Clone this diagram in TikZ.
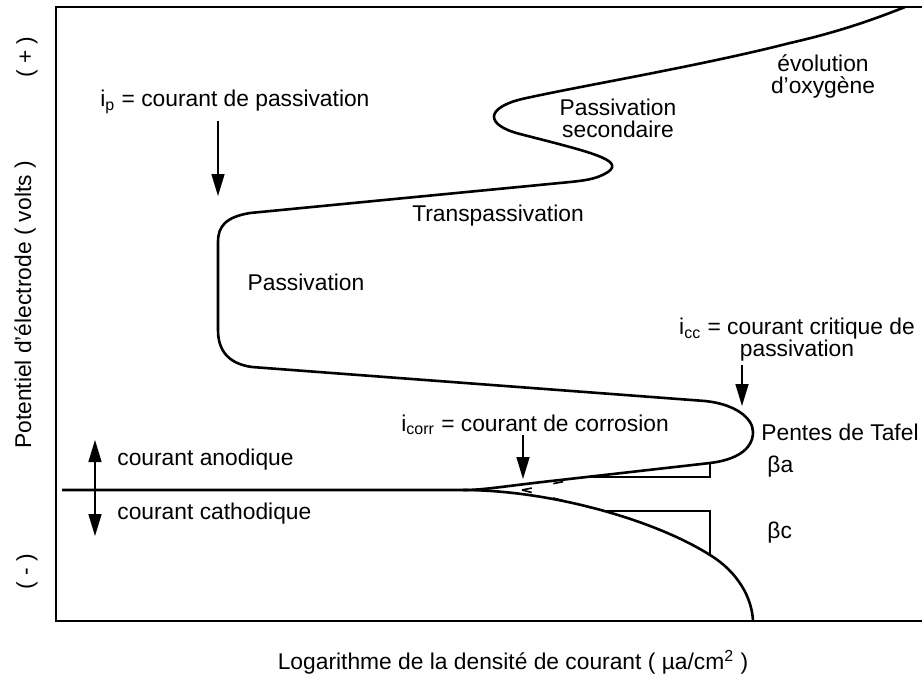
\documentclass[tikz,border=0pt]{standalone}
\usepackage{fontspec}
\setmainfont{Liberation Sans}
\usetikzlibrary{arrows.meta}

\tikzset{
  lbl/.style={font=\fontsize{11.4}{11}\selectfont, inner sep=0pt, align=center},
  curve/.style={line width=1.3pt, line join=round},
  frame/.style={line width=0.9pt},
  thin/.style={line width=0.8pt},
  pointer/.style={line width=0.8pt, -{Triangle[length=11pt,width=6.5pt]}},
  tafeldash/.style={line width=0.8pt, dash pattern=on 5pt off 11pt},
}

\begin{document}
\begin{tikzpicture}[x=0.5pt, y=-0.5pt]
\useasboundingbox (0,0) rectangle (922,677);

% Frame of the plot
\draw[frame] (922,7) -- (56,7) -- (56,621) -- (922,621);

% Polarisation curve (anodic branch down to the zero line)
\draw[curve] (905,7) .. controls (860,25) and (825,35) .. (790,43)
  .. controls (700,66) and (580,86) .. (522,99)
  .. controls (485,108) and (485,125) .. (520,134)
  .. controls (590,152) and (625,160) .. (608,172)
  .. controls (598,178) and (590,180) .. (570,182)
  -- (250,213)
  .. controls (226,217) and (218,226) .. (218,242)
  -- (218,330)
  .. controls (218,352) and (230,364) .. (252,367)
  -- (705,401)
  .. controls (735,404) and (753,418) .. (753,432)
  .. controls (753,450) and (735,460) .. (710,463)
  -- (560,480)
  .. controls (505,486) and (485,490) .. (463,490)
  -- (62,490);

% Cathodic branch
\draw[curve] (463,490) .. controls (550,490) and (655,520) .. (710,555)
  .. controls (738,572) and (752,598) .. (753,621);

% Tafel triangles
\draw[thin] (586,477) -- (710,477) -- (710,463);
\draw[thin] (604,511) -- (710,511) -- (710,555);

% Tafel extrapolations
\coordinate (corr) at (522,490);
\coordinate (tafa) at (586,477);
\coordinate (tafc) at (604,511);
\draw[tafeldash] (corr) -- (tafa);
\draw[tafeldash] (corr) -- (tafc);

% Axis labels
\node[lbl, rotate=90] (plus) at (27,57) {( + )};
\node[lbl, rotate=90] (minus) at (27,572) {( - )};
\node[lbl, rotate=90] (ylab) at (25,305) {Potentiel d'électrode ( volts )};
\node[lbl] (xlab) at (513,662) {Logarithme de la densité de courant ( µa/cm\textsuperscript{2} )};

% Anodic / cathodic sense
\coordinate (anoTop) at (95,440);
\coordinate (catBot) at (95,536);
\draw[line width=0.8pt, {Triangle[length=11pt,width=6.5pt]}-{Triangle[length=11pt,width=6.5pt]}] (anoTop) -- (catBot);
\node[lbl, anchor=west] (anodique) at (117,460) {courant anodique};
\node[lbl, anchor=west] (cathodique) at (117,514) {courant cathodique};

% Region labels
\node[lbl] (oxygene) at (823,76) {évolution\\d'oxygène};
\node[lbl] (secondaire) at (618,118) {Passivation\\secondaire};
\node[lbl] (transp) at (498,216) {Transpassivation};
\node[lbl] (passiv) at (306,282) {Passivation};
\node[lbl, anchor=west] (tafel) at (761,432) {Pentes de Tafel};
\node[lbl, anchor=west] (betaa) at (767,467) {βa};
\node[lbl, anchor=west] (betac) at (767,533) {βc};

% Current markers
\node[lbl, anchor=west] (ip) at (100,102) {i\textsubscript{p} = courant de passivation};
\coordinate (ipTop) at (218,121);
\coordinate (ipTip) at (218,196);
\draw[pointer] (ipTop) -- (ipTip);

\node[lbl] (icc) at (797,340) {i\textsubscript{cc} = courant critique de\\passivation};
\coordinate (iccTop) at (742,365);
\coordinate (iccTip) at (742,406);
\draw[pointer] (iccTop) -- (iccTip);

\node[lbl, anchor=west] (icorr) at (401,425) {i\textsubscript{corr} = courant de corrosion};
\coordinate (icorrTop) at (523,435);
\coordinate (icorrTip) at (523,479);
\draw[pointer] (icorrTop) -- (icorrTip);
\end{tikzpicture}
\end{document}
